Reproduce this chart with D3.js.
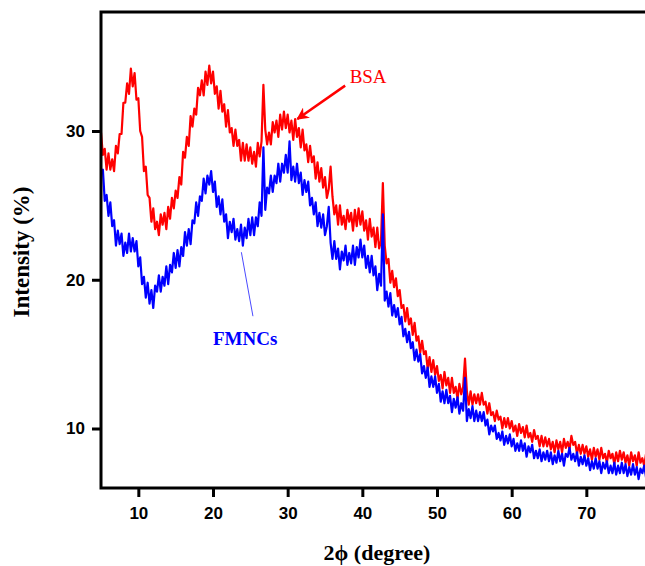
<!DOCTYPE html>
<html>
<head>
<meta charset="utf-8">
<script src="https://cdn.jsdelivr.net/npm/d3@7/dist/d3.min.js"></script>
<style>
  html, body { margin: 0; padding: 0; background: #fff; overflow: hidden; }
  svg { display: block; }
</style>
</head>
<body>
<svg id="chart" width="645" height="566"></svg>
<script>
// Diffraction scans, sampled every 0.25 degree from 5 to 78 degrees
const angleStart = 5;
const angleStep = 0.25;

const bsa = [
  29.9,28.4,28.8,27.4,28.5,27.4,28.1,27.3,29.0,28.5,29.8,29.8,31.9,31.9,33.2,32.5,34.2,33.0,33.9,32.1,
  32.2,30.0,29.6,27.3,27.6,25.7,25.5,23.9,24.8,23.4,23.9,23.0,24.4,23.7,24.5,23.4,24.9,24.1,25.5,24.8,
  26.0,25.5,26.9,26.4,28.6,28.2,29.6,29.0,31.0,30.3,31.5,31.1,32.9,32.4,33.4,32.4,34.0,33.1,34.4,33.2,
  34.0,32.5,33.0,31.5,32.7,31.3,31.8,30.3,31.4,29.9,30.2,29.0,30.1,29.0,29.4,28.0,29.2,28.0,29.1,28.0,
  28.9,27.8,28.6,27.6,29.2,28.3,29.3,33.1,30.1,29.1,29.9,29.1,30.6,29.9,30.7,29.6,31.1,30.1,31.3,30.2,
  31.1,29.9,30.7,29.4,30.8,29.6,30.2,28.9,30.1,28.7,29.1,27.9,29.0,27.9,28.3,26.8,27.9,26.6,27.5,26.2,
  26.9,25.5,26.1,27.6,25.6,24.4,25.0,23.7,25.0,23.7,24.3,23.4,24.7,23.9,24.5,23.3,24.7,23.6,24.8,23.7,
  24.6,23.3,24.0,22.7,24.1,22.9,23.5,22.2,23.5,22.1,22.6,26.5,22.3,21.1,21.4,19.8,20.6,19.5,20.1,18.9,
  19.3,18.1,18.3,17.2,18.1,17.0,17.4,16.3,17.1,15.9,16.2,15.1,15.9,15.0,15.2,14.0,14.8,13.8,14.6,13.6,
  14.2,13.2,13.6,12.7,13.8,12.9,13.4,12.4,13.4,12.4,12.8,12.0,13.0,12.3,12.8,14.7,12.5,11.6,12.5,11.6,
  12.3,11.7,12.3,11.6,12.4,11.6,11.8,11.0,11.7,10.9,11.1,10.5,11.2,10.6,10.8,10.0,10.7,10.1,10.7,10.0,
  10.5,9.8,10.2,9.5,10.3,9.7,10.1,9.4,10.2,9.4,9.7,9.1,9.9,9.3,9.5,8.8,9.5,8.8,9.4,8.8,
  9.3,8.6,9.1,8.4,9.2,8.6,9.1,8.4,9.3,8.7,9.1,8.6,9.5,8.9,9.1,8.3,8.9,8.3,8.9,8.3,
  8.8,8.1,8.6,7.9,8.7,8.1,8.6,7.9,8.7,8.0,8.3,7.7,8.5,8.0,8.3,7.6,8.4,7.8,8.5,7.9,
  8.4,7.7,8.2,7.5,8.4,7.8,8.2,7.5,8.4,7.7,8.0,7.5,8.3
];

const fmncs = [
  27.2,27.4,25.3,25.7,24.3,25.2,23.6,24.0,22.3,23.3,22.4,23.1,21.6,22.5,21.8,23.1,21.9,22.8,21.9,22.6,
  20.9,21.5,19.7,20.2,18.8,19.8,18.4,19.3,18.1,19.6,19.2,20.3,19.2,20.2,19.6,20.9,19.7,21.0,20.5,21.8,
  20.8,22.0,20.9,22.2,21.6,23.2,22.3,23.4,22.4,24.0,23.8,25.2,24.3,25.6,25.3,26.8,25.8,27.0,26.4,27.3,
  25.9,26.6,24.9,25.6,24.4,25.4,23.9,24.4,22.8,23.9,23.2,24.1,22.7,23.4,22.6,23.7,22.3,23.5,22.8,24.1,
  23.0,24.2,23.0,24.2,23.6,25.2,24.3,28.9,24.7,26.2,25.8,27.0,25.9,27.0,26.5,27.8,26.6,27.8,27.2,28.4,
  27.2,29.3,26.7,27.6,26.6,27.8,26.5,27.2,25.7,26.7,25.9,26.6,25.0,25.5,24.4,25.2,23.6,24.5,23.5,24.4,
  23.0,23.6,24.9,22.5,21.4,22.6,21.4,22.1,20.7,21.9,21.3,22.3,21.0,21.8,21.1,22.3,21.0,22.2,21.5,22.7,
  21.5,22.3,20.8,21.6,20.5,21.6,20.3,20.9,19.3,20.4,19.6,24.4,18.6,19.2,18.2,19.1,17.6,18.3,17.5,18.1,
  17.0,17.5,16.2,16.7,15.8,16.5,15.4,15.8,14.6,15.3,14.5,15.0,13.7,14.2,13.4,14.1,12.8,13.5,12.8,13.5,
  12.4,13.0,11.8,12.5,11.7,12.6,11.7,12.2,11.1,12.0,11.4,12.1,11.0,11.7,11.2,13.4,10.5,11.3,10.7,11.5,
  10.5,11.2,10.5,11.1,10.5,11.1,10.2,10.6,9.6,10.2,9.8,10.2,9.3,9.7,9.2,9.8,8.9,9.5,9.0,9.6,
  8.8,9.3,8.5,9.0,8.5,9.2,8.5,9.0,8.1,8.8,8.4,8.9,8.0,8.5,8.0,8.6,7.8,8.4,7.9,8.5,
  7.8,8.4,7.6,8.2,7.7,8.5,7.8,8.3,7.5,8.3,8.1,8.7,7.9,8.3,7.8,8.4,7.5,8.1,7.6,8.2,
  7.5,8.0,7.2,7.8,7.3,8.0,7.3,7.8,7.0,7.7,7.3,7.8,7.0,7.5,7.0,7.7,6.9,7.5,7.0,7.7,
  7.0,7.6,6.8,7.4,6.9,7.6,6.9,7.4,6.6,7.3,7.0,7.5,6.7
];

const xTicks = [10, 20, 30, 40, 50, 60, 70];
const yTicks = [10, 20, 30];

const xDomain = [5, 80];
const yDomain = [6, 38];

// Annotation anchors, in data units
const bsaLabel = { text: "BSA", x: 38.3, y: 33.2 };
const bsaArrow = { from: [37.7, 33.05], to: [31.3, 30.8] };
const fmncsLabel = { text: "FMNCs", x: 20.0, y: 15.6 };
const fmncsPointer = { from: [25.35, 17.55], to: [23.8, 21.85] };

const plot = { left: 101, top: 12, right: 661, bottom: 488 };

const svg = d3.select("#chart");

const x = d3.scaleLinear().domain(xDomain).range([plot.left, plot.right]);
const y = d3.scaleLinear().domain(yDomain).range([plot.bottom, plot.top]);

const defs = svg.append("defs");
defs.append("clipPath").attr("id", "plot-clip")
  .append("rect")
  .attr("x", plot.left).attr("y", plot.top)
  .attr("width", plot.right - plot.left).attr("height", plot.bottom - plot.top);

const line = d3.line()
  .x((d, i) => x(angleStart + i * angleStep))
  .y(d => y(d));

const traces = svg.append("g").attr("clip-path", "url(#plot-clip)");

traces.append("path")
  .datum(bsa)
  .attr("d", line)
  .attr("fill", "none")
  .attr("stroke", "#ff0000")
  .attr("stroke-width", 2.2)
  .attr("stroke-linejoin", "round");

traces.append("path")
  .datum(fmncs)
  .attr("d", line)
  .attr("fill", "none")
  .attr("stroke", "#0000ff")
  .attr("stroke-width", 2.2)
  .attr("stroke-linejoin", "round");

// Frame
svg.append("rect")
  .attr("x", plot.left).attr("y", plot.top)
  .attr("width", plot.right - plot.left).attr("height", plot.bottom - plot.top)
  .attr("fill", "none")
  .attr("stroke", "#000")
  .attr("stroke-width", 3);

// Axes
const tickFont = "'Liberation Sans', Arial, sans-serif";

const xAxis = svg.append("g")
  .attr("transform", `translate(0,${plot.bottom})`)
  .call(d3.axisBottom(x).tickValues(xTicks).tickSize(9).tickPadding(10).tickFormat(d3.format("d")));

const yAxis = svg.append("g")
  .attr("transform", `translate(${plot.left},0)`)
  .call(d3.axisLeft(y).tickValues(yTicks).tickSize(9).tickPadding(7).tickFormat(d3.format("d")));

[xAxis, yAxis].forEach(g => {
  g.select(".domain").remove();
  g.selectAll(".tick line").attr("stroke", "#000").attr("stroke-width", 3);
  g.selectAll(".tick text")
    .attr("fill", "#000")
    .style("font-family", tickFont)
    .style("font-weight", "bold")
    .style("font-size", "17px");
});

// Axis titles
const serif = "'Liberation Serif', 'Times New Roman', serif";

svg.append("text")
  .attr("x", 377).attr("y", 560)
  .attr("text-anchor", "middle")
  .style("font-family", serif)
  .style("font-weight", "bold")
  .style("font-size", "22px")
  .text("2ϕ (degree)");

svg.append("text")
  .attr("transform", "translate(28.5,252) rotate(-90)")
  .attr("text-anchor", "middle")
  .style("font-family", serif)
  .style("font-weight", "bold")
  .style("font-size", "23px")
  .text("Intensity (%)");

// Series annotations
defs.append("marker")
  .attr("id", "arrowhead")
  .attr("viewBox", "0 0 10 10")
  .attr("refX", 9).attr("refY", 5)
  .attr("markerWidth", 5).attr("markerHeight", 5)
  .attr("markerUnits", "strokeWidth")
  .attr("orient", "auto")
  .append("path")
  .attr("d", "M0,0 L10,5 L0,10 L3,5 Z")
  .attr("fill", "#ff0000");

svg.append("line")
  .attr("x1", x(bsaArrow.from[0])).attr("y1", y(bsaArrow.from[1]))
  .attr("x2", x(bsaArrow.to[0])).attr("y2", y(bsaArrow.to[1]))
  .attr("stroke", "#ff0000")
  .attr("stroke-width", 2.5)
  .attr("marker-end", "url(#arrowhead)");

svg.append("text")
  .attr("x", x(bsaLabel.x)).attr("y", y(bsaLabel.y))
  .attr("fill", "#ff0000")
  .style("font-family", serif)
  .style("font-size", "19px")
  .text(bsaLabel.text);

svg.append("line")
  .attr("x1", x(fmncsPointer.from[0])).attr("y1", y(fmncsPointer.from[1]))
  .attr("x2", x(fmncsPointer.to[0])).attr("y2", y(fmncsPointer.to[1]))
  .attr("stroke", "#4a4aff")
  .attr("stroke-width", 1);

svg.append("text")
  .attr("x", x(fmncsLabel.x)).attr("y", y(fmncsLabel.y))
  .attr("fill", "#0000ff")
  .style("font-family", serif)
  .style("font-weight", "bold")
  .style("font-size", "19px")
  .text(fmncsLabel.text);
</script>
</body>
</html>
